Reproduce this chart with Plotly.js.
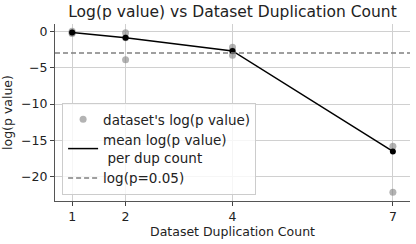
<!DOCTYPE html>
<html><head><meta charset="utf-8">
<script src="https://cdn.plot.ly/plotly-3.0.1.min.js"></script>
<style>html,body{margin:0;padding:0;background:#fff}#c{width:416px;height:244px}</style>
</head><body><div id="c"></div>
<script>
// individual dataset points
const ptDup = [1, 1, 1, 2, 2, 2, 4, 4, 4, 7, 7];
const ptLogP = [0.0, -0.2, -0.3, -0.2, -0.9, -3.9, -2.2, -2.7, -3.3, -15.8, -22.1];
// mean per dup count
const dupCounts = [1, 2, 4, 7];
const meanLogP = [-0.15, -0.9, -2.7, -16.5];
const threshold = Math.log(0.05);
const xTicks = [1, 2, 4, 7];
const yTicks = [0, -5, -10, -15, -20];

const font = 'DejaVu Sans, sans-serif';
const traces = [
  {x: ptDup, y: ptLogP, mode: 'markers', type: 'scatter', name: "dataset's log(p value)",
   marker: {color: 'rgba(128,128,128,0.6)', size: 7}},
  {x: dupCounts, y: meanLogP, mode: 'lines', type: 'scatter', name: 'mean log(p value)<br> per dup count',
   line: {color: 'black', width: 1.5}},
  {x: dupCounts, y: meanLogP, mode: 'markers', type: 'scatter', showlegend: false,
   marker: {color: 'black', size: 6}},
  {x: [0.68, 7.32], y: [threshold, threshold], mode: 'lines', type: 'scatter', name: 'log(p=0.05)',
   line: {color: 'gray', width: 1.5, dash: '5px,3px'}}
];
const layout = {
  width: 416, height: 244,
  margin: {l: 55, r: 6, t: 24, b: 43},
  paper_bgcolor: 'white', plot_bgcolor: 'white',
  font: {family: font, color: '#222', size: 12},
  title: {text: 'Log(p value) vs Dataset Duplication Count', font: {size: 15.5, color: '#222'},
          xref: 'paper', x: 0.5, xanchor: 'center', y: 0.975, yanchor: 'top'},
  xaxis: {range: [0.68, 7.32], tickvals: xTicks, ticktext: xTicks.map(String), showgrid: true, gridcolor: '#d0d0d0',
          zeroline: false, showline: true, linecolor: '#555', linewidth: 1, ticks: 'outside', ticklen: 4, tickcolor: '#444',
          title: {text: 'Dataset Duplication Count', font: {size: 12.5}, standoff: 3}, tickfont: {size: 12.5}},
  yaxis: {range: [-23.3, 1.0], tickvals: yTicks, ticktext: yTicks.map(v => v < 0 ? '\u2212' + Math.abs(v) : String(v)),
          showgrid: true, gridcolor: '#d0d0d0', zeroline: false, showline: true, linecolor: '#555', linewidth: 1,
          ticks: 'outside', ticklen: 4, tickcolor: '#444',
          title: {text: 'log(p value)', font: {size: 12.5}, standoff: 5}, tickfont: {size: 12.5}},
  showlegend: true,
  legend: {x: 0.02, y: 0.034, xanchor: 'left', yanchor: 'bottom', bgcolor: 'rgba(255,255,255,0.8)',
           bordercolor: '#ccc', borderwidth: 1, font: {size: 13.5, color: '#222'}, tracegroupgap: 0}
};
Plotly.newPlot('c', traces, layout, {staticPlot: true, displayModeBar: false});
</script></body></html>
